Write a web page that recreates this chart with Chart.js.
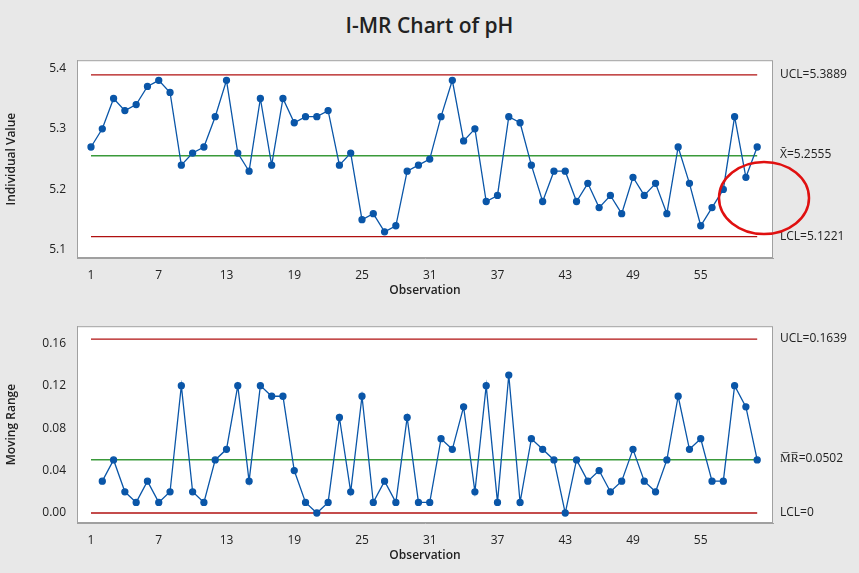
<!DOCTYPE html>
<html><head><meta charset="utf-8">
<script src="https://cdn.jsdelivr.net/npm/chart.js@4"></script>
<style>
html,body{margin:0;padding:0;background:#e8e8e8;width:859px;height:573px;overflow:hidden;font-family:"Open Sans",sans-serif}
#title{position:absolute;top:11px;left:0;width:859px;text-align:center;font-size:21px;font-weight:600;color:#222}
.c{position:absolute;left:0}
</style></head><body>
<div id="title">I-MR Chart of pH</div>
<div class="c" style="top:50px;width:859px;height:258px"><canvas id="c1"></canvas></div>
<div class="c" style="top:316px;width:859px;height:257px"><canvas id="c2"></canvas></div>
<script>
const observations = Array.from({length:60},(_,i)=>i+1);
const individualValues = [5.27,5.30,5.35,5.33,5.34,5.37,5.38,5.36,5.24,5.26,5.27,5.32,5.38,5.26,5.23,5.35,5.24,5.35,5.31,5.32,5.32,5.33,5.24,5.26,5.15,5.16,5.13,5.14,5.23,5.24,5.25,5.32,5.38,5.28,5.30,5.18,5.19,5.32,5.31,5.24,5.18,5.23,5.23,5.18,5.21,5.17,5.19,5.16,5.22,5.19,5.21,5.16,5.27,5.21,5.14,5.17,5.20,5.32,5.22,5.27];
const movingRanges = [null,0.03,0.05,0.02,0.01,0.03,0.01,0.02,0.12,0.02,0.01,0.05,0.06,0.12,0.03,0.12,0.11,0.11,0.04,0.01,0.00,0.01,0.09,0.02,0.11,0.01,0.03,0.01,0.09,0.01,0.01,0.07,0.06,0.10,0.02,0.12,0.01,0.13,0.01,0.07,0.06,0.05,0.00,0.05,0.03,0.04,0.02,0.03,0.06,0.03,0.02,0.05,0.11,0.06,0.07,0.03,0.03,0.12,0.10,0.05];
const xTicks = [1,7,13,19,25,31,37,43,49,55];
const iLimits = {ucl:5.3889, center:5.2555, lcl:5.1221};
const iLabels = ["UCL=5.3889","X\u0304=5.2555","LCL=5.1221"];
const mrLimits = {ucl:0.1639, center:0.0502, lcl:0};
const mrLabels = ["UCL=0.1639","M\u0305R\u0305=0.0502","LCL=0"];
const iTicks = [5.1,5.2,5.3,5.4];
const mrTicks = [0.00,0.04,0.08,0.12,0.16];

const BLUE='#0a56a8', GREEN='#3a9a3a', RED='#b01010';
function flat(v){return observations.map(x=>({x,y:v}));}
const bgPlugin={id:'bg',beforeDraw(ch){const a=ch.chartArea,c=ch.ctx;c.save();c.fillStyle='#fff';c.fillRect(a.left,a.top,a.right-a.left,a.bottom-a.top);c.strokeStyle='#a0a0a0';c.lineWidth=1;c.strokeRect(a.left+0.5,a.top+0.5,a.right-a.left-1,a.bottom-a.top-1);c.restore();}};
function labelPlugin(lim,labels,circle){return {id:'lbl',afterDraw(ch){const c=ch.ctx,y=ch.scales.y;c.save();c.font='12px "Open Sans"';c.fillStyle='#222';c.textBaseline='middle';
 [lim.ucl,lim.center,lim.lcl].forEach((v,i)=>c.fillText(labels[i],ch.chartArea.right+7,y.getPixelForValue(v)+(i==1?-1:0)));
 if(circle){c.strokeStyle='#e01010';c.lineWidth=2.5;c.beginPath();c.ellipse(764,148,45,36,0,0,Math.PI*2);c.stroke();}
 c.restore();}};}
function make(id,data,lim,ymin,ymax,ticks,dec,title,labels,circle){
 new Chart(document.getElementById(id),{type:'line',
  data:{datasets:[
   {data:observations.map((x,i)=>({x,y:data[i]})),borderColor:BLUE,backgroundColor:BLUE,borderWidth:1.3,pointRadius:3,pointHoverRadius:3,tension:0,order:0},
   {data:flat(lim.ucl),borderColor:RED,borderWidth:1.3,pointRadius:0,order:1},
   {data:flat(lim.center),borderColor:GREEN,borderWidth:1.5,pointRadius:0,order:1},
   {data:flat(lim.lcl),borderColor:RED,borderWidth:1.3,pointRadius:0,order:1}]},
  options:{responsive:true,maintainAspectRatio:false,animation:false,
   layout:{padding:{top:10,right:86,left:0,bottom:0}},
   plugins:{legend:{display:false},tooltip:{enabled:false}},
   scales:{
    x:{type:'linear',min:-0.24,max:61.4,grid:{display:false,drawTicks:true},border:{color:'#a0a0a0'},
     afterBuildTicks(s){s.ticks=xTicks.map(v=>({value:v}));},afterFit(s){s.height=50;},
     ticks:{color:'#222',font:{size:12,family:'Open Sans'},maxRotation:0,padding:2},
     title:{display:true,text:'Observation',color:'#222',font:{size:12,weight:600,family:'Open Sans'},padding:{top:0,bottom:10}}},
    y:{min:ymin,max:ymax,grid:{display:false},border:{color:'#a0a0a0'},
     afterBuildTicks(s){s.ticks=ticks.map(v=>({value:v}));},afterFit(s){s.width=77;},
     ticks:{color:'#222',font:{size:12,family:'Open Sans'},callback:v=>v.toFixed(dec)},
     title:{display:true,text:title,color:'#222',font:{size:12,weight:600,family:'Open Sans'},padding:4}}}},
  plugins:[bgPlugin,labelPlugin(lim,labels,circle)]});
}
make('c1',individualValues,iLimits,5.0868,5.4132,iTicks,1,'Individual Value',iLabels,true);
make('c2',movingRanges,mrLimits,-0.0094,0.176,mrTicks,2,'Moving Range',mrLabels,false);
</script></body></html>
